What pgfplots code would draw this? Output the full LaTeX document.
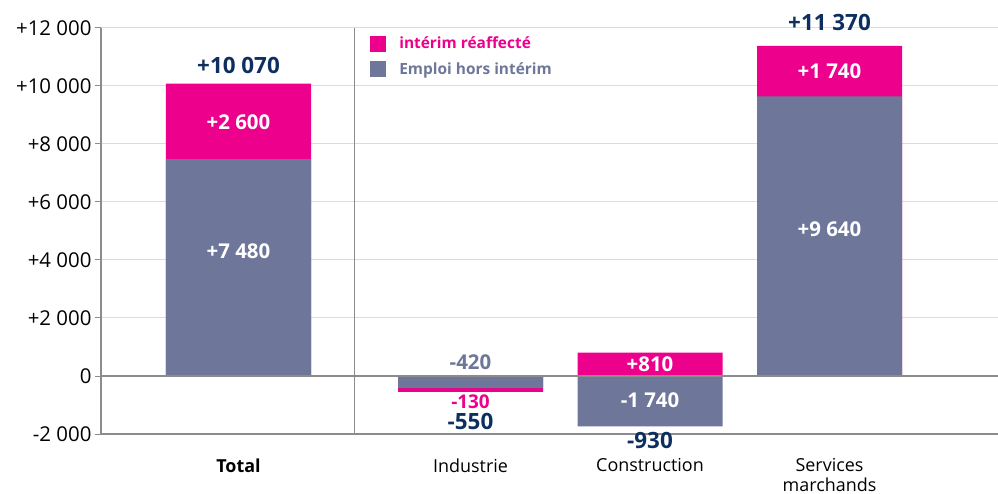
\documentclass[border=0pt]{standalone}
\usepackage{fontspec}
\setmainfont{Open Sans}
\usepackage{pgfplots}
\usepackage{pgfplotstable}
\pgfplotsset{compat=1.18}
\definecolor{rose}{HTML}{EC008C}
\definecolor{ardoise}{HTML}{6E7799}
\definecolor{marine}{HTML}{0D2F5F}
\definecolor{grille}{HTML}{DCDCDC}
\definecolor{trait}{HTML}{8C8C8C}

% base = where the interim segment starts
\pgfplotstableread{
cat x emploi interim base
Total 2.385 7480 2600 7480
Industrie 4.705 -420 -130 -420
Construction 6.5 -1740 810 0
Services 8.295 9640 1740 9640
}\data

\tikzset{
  inbar/.style={inner sep=0pt, font=\bfseries\fontsize{20.5}{22}\selectfont, text=white},
  somme/.style={inner sep=0pt, font=\bfseries\fontsize{22.5}{24}\selectfont, text=marine},
}

\begin{document}
\begin{tikzpicture}
\useasboundingbox (-101bp,-60bp) rectangle (897bp,434bp);
\begin{axis}[
  at={(0,0)}, anchor=south west,
  scale only axis, width=897bp, height=406bp,
  xmin=1.01, xmax=9.98, ymin=-2000, ymax=12000,
  clip=false, scaled y ticks=false,
  axis lines=left, axis line style={-, draw=trait, line width=1.2bp},
  ytick={-2000,0,2000,...,12000},
  yticklabels={-2 000,0,+2 000,+4 000,+6 000,+8 000,+10 000,+12 000},
  yticklabel style={font=\fontsize{20.5}{22}\selectfont},
  tick align=outside, major tick length=6bp,
  ytick style={draw=trait, line width=1bp},
  ymajorgrids, grid style={draw=grille, line width=1bp},
  xtick={2.385,4.705,6.5,8.295},
  xticklabels={\textbf{Total},Industrie,Construction,Services\\marchands},
  xticklabel style={align=center, yshift=-15bp, font=\fontsize{18}{20}\selectfont},
  xtick style={draw=none},
  extra x ticks={3.54}, extra x tick labels={},
  extra x tick style={grid=major, major grid style={draw=trait, line width=1bp}},
  legend style={at={(0.30,0.983)}, anchor=north west, draw=none, fill=none,
    inner sep=0pt, row sep=8bp, font=\bfseries\fontsize{15.5}{17}\selectfont},
  legend cell align=left,
  legend image code/.code={\fill[#1] (0bp,-8bp) rectangle (16bp,8bp);},
]
\addplot[ybar, bar shift=0pt, bar width=145bp, fill=rose, draw=none]
  table[x=x, y expr=\thisrow{base}+\thisrow{interim}] {\data};
\addlegendentry{\hspace{11bp}\textcolor{rose}{intérim réaffecté}}
\addplot[ybar, bar shift=0pt, bar width=145bp, fill=ardoise, draw=none]
  table[x=x, y=emploi] {\data};
\addlegendentry{\hspace{11bp}\textcolor{ardoise}{Emploi hors intérim}}

\draw[trait, line width=1.2bp] ({rel axis cs:0,0} |- {axis cs:0,0}) -- ({rel axis cs:1,0} |- {axis cs:0,0});

\node[somme] at (axis cs:2.385,10720) {+10 070};
\node[inbar] at (axis cs:2.385,8760) {+2 600};
\node[inbar] at (axis cs:2.385,4310) {+7 480};

\node[inner sep=0pt, font=\bfseries\fontsize{20.5}{22}\selectfont, text=ardoise] at (axis cs:4.705,480) {-420};
\node[inner sep=0pt, font=\bfseries\fontsize{19}{20}\selectfont, text=rose] at (axis cs:4.705,-880) {-130};
\node[somme] at (axis cs:4.705,-1560) {-550};

\node[inbar] at (axis cs:6.5,410) {+810};
\node[inbar] at (axis cs:6.5,-830) {-1 740};
\node[somme] at (axis cs:6.5,-2210) {-930};

\node[somme] at (axis cs:8.295,12200) {+11 370};
\node[inbar] at (axis cs:8.295,10520) {+1 740};
\node[inbar] at (axis cs:8.295,5070) {+9 640};
\end{axis}
\end{tikzpicture}
\end{document}
